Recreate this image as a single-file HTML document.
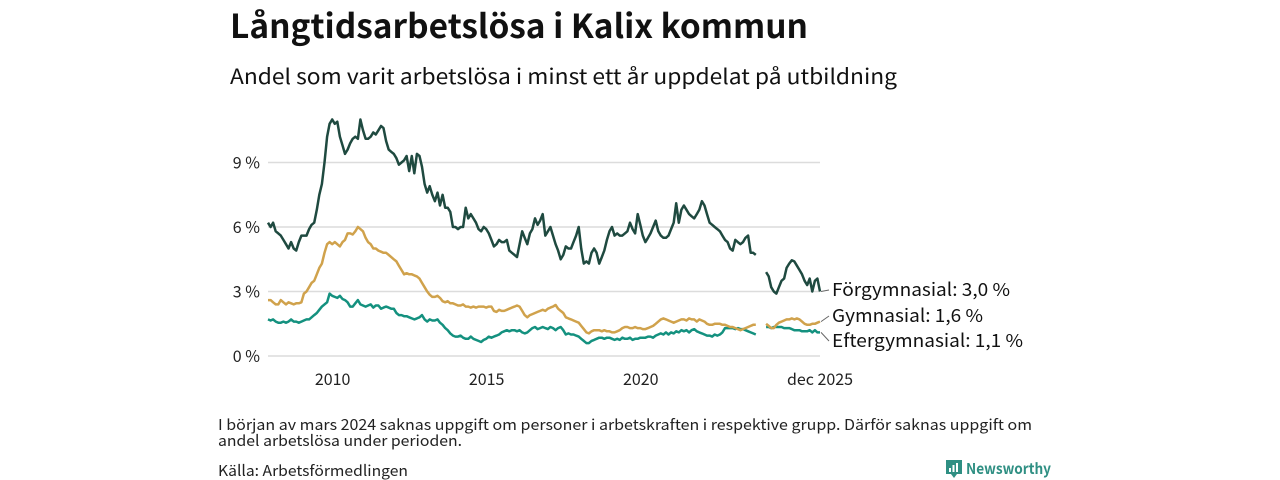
<!DOCTYPE html>
<html><head><meta charset="utf-8"><style>
html,body{margin:0;padding:0;background:#fff;}
svg{display:block;font-family:"Noto Sans CJK SC","Liberation Sans",sans-serif;}
</style></head><body>
<svg id="chart" width="1280" height="480" viewBox="0 0 1280 480">
<text x="230" y="38" font-size="33" font-weight="bold" fill="#111" textLength="578" lengthAdjust="spacingAndGlyphs">Långtidsarbetslösa i Kalix kommun</text>
<text x="230" y="84" font-size="21" fill="#111" textLength="667" lengthAdjust="spacingAndGlyphs">Andel som varit arbetslösa i minst ett år uppdelat på utbildning</text>
<g id="grid"></g>
<g id="yaxis"></g>
<g id="xaxis"></g>
<g id="series"></g>
<g id="labels"></g>
<text x="218" y="430" font-size="15" fill="#222" textLength="814" lengthAdjust="spacingAndGlyphs">I början av mars 2024 saknas uppgift om personer i arbetskraften i respektive grupp. Därför saknas uppgift om</text>
<text x="218" y="446" font-size="15" fill="#222" textLength="244" lengthAdjust="spacingAndGlyphs">andel arbetslösa under perioden.</text>
<text x="218" y="476" font-size="15" fill="#222" textLength="190" lengthAdjust="spacingAndGlyphs">Källa: Arbetsförmedlingen</text>
<g>
<path d="M946 460 h16 v14 h-5 l-3 4 l-3 -4 h-5 z" fill="#2f8f83"/>
<rect x="949" y="468" width="2" height="4" fill="#fff"/><rect x="952.5" y="465" width="2" height="7" fill="#fff"/><rect x="956" y="463" width="2" height="9" fill="#fff"/>
<text x="966" y="474" font-size="15" font-weight="bold" fill="#2f8f83" textLength="85" lengthAdjust="spacingAndGlyphs">Newsworthy</text>
</g>
</svg>
<script>
const yTicks=[0,3,6,9];
const yTickLabels=["0 %","3 %","6 %","9 %"];
const xTicks=[2010,2015,2020];
const xTickLabels=["2010","2015","2020"];
const startYear=2008;
const N=null;
const forgymnasial=[
6.2,6.0,6.2,5.8,5.7,5.6,5.4,5.2,5.0,5.3,5.0,4.9,
5.3,5.6,5.6,5.6,5.9,6.1,6.2,6.8,7.5,8.0,9.0,10.2,
10.8,11.0,10.8,10.9,10.2,9.8,9.4,9.6,9.9,10.1,10.2,10.1,
11.0,10.5,10.1,10.1,10.2,10.4,10.3,10.5,10.7,10.6,10.0,9.6,
9.5,9.4,9.2,8.9,9.0,9.1,9.3,8.6,9.3,8.5,9.4,9.3,
8.8,8.0,7.6,7.9,7.5,7.2,7.6,7.0,7.5,6.9,6.9,6.7,
6.0,6.0,5.9,6.0,6.0,6.9,6.4,6.6,6.4,6.2,5.9,5.8,
6.0,5.9,5.7,5.4,5.1,5.2,5.4,5.3,5.3,5.4,4.9,4.8,
4.7,4.6,5.2,5.8,5.5,5.2,5.7,5.9,6.4,6.1,6.3,6.6,
5.6,5.8,6.0,5.6,5.2,4.9,4.5,4.7,5.1,5.0,5.0,5.3,
5.6,6.0,5.0,4.3,4.4,4.3,4.8,5.0,4.8,4.3,4.6,4.9,
5.4,5.8,6.0,5.6,5.7,5.6,5.6,5.7,5.8,6.2,5.9,5.7,
6.6,6.1,5.6,5.3,5.5,5.7,6.0,6.3,5.8,5.6,5.5,5.5,
5.6,5.9,6.2,7.1,6.2,6.8,7.0,6.8,6.6,6.5,6.4,6.6,
6.8,7.2,7.0,6.6,6.2,6.1,6.0,5.9,5.8,5.6,5.4,5.3,
5.0,4.9,5.4,5.3,5.2,5.3,5.5,5.6,4.8,4.8,4.7,N,
N,N,3.9,3.7,3.2,3.0,2.9,3.2,3.5,3.6,4.1,4.3,
4.45,4.4,4.2,4.0,3.8,3.5,3.3,3.6,3.0,3.5,3.6,3.0];
const gymnasial=[
2.6,2.6,2.5,2.4,2.4,2.6,2.5,2.4,2.5,2.45,2.4,2.45,
2.45,2.5,2.9,3.0,3.2,3.4,3.5,3.8,4.1,4.3,4.8,5.2,
5.3,5.2,5.3,5.2,5.1,5.3,5.4,5.7,5.7,5.65,5.8,6.0,
5.9,5.8,5.5,5.3,5.2,5.0,5.0,4.9,4.85,4.8,4.8,4.7,
4.6,4.5,4.4,4.2,4.0,3.8,3.85,3.8,3.8,3.75,3.7,3.6,
3.4,3.2,3.0,2.85,2.75,2.75,2.8,2.7,2.55,2.5,2.55,2.45,
2.45,2.4,2.35,2.35,2.4,2.3,2.3,2.25,2.3,2.25,2.3,2.3,
2.3,2.25,2.3,2.3,2.1,2.05,2.15,2.1,2.1,2.15,2.2,2.25,
2.3,2.35,2.3,2.1,1.9,1.8,1.9,1.95,2.0,2.05,2.1,2.15,
2.1,2.2,2.25,2.3,2.37,2.2,2.1,2.0,1.8,1.75,1.7,1.65,
1.6,1.55,1.4,1.25,1.1,1.05,1.15,1.2,1.2,1.2,1.15,1.2,
1.15,1.15,1.1,1.1,1.15,1.2,1.3,1.35,1.35,1.3,1.3,1.35,
1.3,1.3,1.25,1.25,1.3,1.35,1.4,1.5,1.6,1.7,1.75,1.7,
1.65,1.6,1.55,1.6,1.65,1.7,1.7,1.65,1.75,1.7,1.7,1.6,
1.7,1.65,1.6,1.5,1.45,1.45,1.5,1.5,1.5,1.45,1.45,1.4,
1.35,1.35,1.3,1.25,1.2,1.25,1.3,1.35,1.4,1.45,1.45,N,
N,N,1.5,1.4,1.3,1.3,1.45,1.55,1.6,1.65,1.7,1.7,
1.75,1.7,1.75,1.7,1.6,1.5,1.45,1.45,1.5,1.5,1.55,1.6];
const eftergymnasial=[
1.7,1.65,1.7,1.6,1.55,1.55,1.6,1.55,1.6,1.7,1.6,1.6,
1.55,1.6,1.65,1.7,1.7,1.8,1.9,2.0,2.15,2.3,2.4,2.5,
2.9,2.8,2.75,2.7,2.8,2.65,2.6,2.5,2.3,2.3,2.45,2.6,
2.4,2.35,2.3,2.35,2.4,2.25,2.35,2.35,2.2,2.25,2.3,2.25,
2.2,2.2,2.0,1.9,1.9,1.85,1.85,1.8,1.75,1.7,1.75,1.8,
1.9,1.7,1.6,1.7,1.65,1.65,1.7,1.55,1.45,1.3,1.2,1.05,
0.95,0.9,0.9,0.95,0.85,0.8,0.8,0.9,0.8,0.75,0.7,0.65,
0.75,0.8,0.9,0.85,0.9,0.95,1.0,1.1,1.15,1.2,1.15,1.2,
1.2,1.15,1.2,1.1,1.05,1.1,1.2,1.3,1.35,1.25,1.3,1.35,
1.3,1.25,1.35,1.3,1.2,1.3,1.35,1.2,1.0,1.05,1.0,1.0,
0.95,0.9,0.8,0.7,0.6,0.6,0.7,0.75,0.8,0.85,0.85,0.8,
0.85,0.85,0.8,0.75,0.8,0.75,0.85,0.8,0.8,0.85,0.75,0.8,
0.8,0.85,0.85,0.85,0.9,0.9,0.85,0.95,1.0,1.05,1.0,1.1,
1.0,1.1,1.05,1.15,1.1,1.2,1.15,1.2,1.1,1.2,1.25,1.15,
1.1,1.05,1.0,0.95,0.95,0.9,1.0,0.95,1.0,1.1,1.3,1.3,
1.3,1.3,1.25,1.3,1.25,1.25,1.2,1.15,1.1,1.05,1.0,N,
N,N,1.35,1.35,1.3,1.35,1.35,1.35,1.35,1.3,1.3,1.3,
1.25,1.2,1.2,1.2,1.15,1.15,1.15,1.2,1.1,1.2,1.1,1.1];
const seriesNames=["Förgymnasial","Gymnasial","Eftergymnasial"];
const seriesColors=["#1f4a40","#d0a24c","#14917f"];

const NS="http://www.w3.org/2000/svg";
const X0=268,X1=820,Y0=356,PXPER=21.5;
const tEnd=2025+11/12;
function xs(t){return X0+(t-startYear)/(tEnd-startYear)*(X1-X0);}
function ys(v){return Y0-v*PXPER;}
function mk(tag,attrs,parent){const e=document.createElementNS(NS,tag);for(const k in attrs)e.setAttribute(k,attrs[k]);parent.appendChild(e);return e;}
const grid=document.getElementById('grid'),ya=document.getElementById('yaxis'),xa=document.getElementById('xaxis'),sg=document.getElementById('series'),lg=document.getElementById('labels');
yTicks.forEach((v,i)=>{
  const l=mk('line',{x1:X0,x2:X1,y1:ys(v),y2:ys(v),stroke:'#dcdcdc','stroke-width':1.5},grid);
  
  
  const t=mk('text',{x:260,y:ys(v)+6,'text-anchor':'end','font-size':16,fill:'#222'},ya);
  t.textContent=yTickLabels[i];
  
  
});
xTicks.forEach((v,i)=>{
  const t=mk('text',{x:xs(v)+3,y:385,'text-anchor':'middle','font-size':16,fill:'#222'},xa);
  t.textContent=xTickLabels[i];
  
  
});
const endLbl=mk('text',{x:xs(tEnd),y:385,'text-anchor':'middle','font-size':16,fill:'#222'},xa);
endLbl.textContent="dec 2025";


const all=[forgymnasial,gymnasial,eftergymnasial];
const order=[2,1,0];
order.forEach(si=>{
  const data=all[si];let d='',pen=false;
  data.forEach((v,i)=>{
    if(v===null){pen=false;return;}
    const x=xs(startYear+i/12),y=ys(v);
    d+=(pen?'L':'M')+x.toFixed(1)+' '+y.toFixed(1);pen=true;
  });
  const p=mk('path',{d:d,fill:'none',stroke:seriesColors[si],'stroke-width':2.5,'stroke-linejoin':'round'},sg);
  
  
});
const labelY=[296,322,347];
const fmt=v=>v.toFixed(1).replace('.',',')+' %';
const labelW=[178,151,191];
all.forEach((data,si)=>{
  const last=data[data.length-1];
  const ly=labelY[si]-6;
  const ln=mk('line',{x1:xs(tEnd)+1,y1:ys(last),x2:829,y2:ly,stroke:'#666','stroke-width':1},lg);
  
  
  const t=mk('text',{x:832,y:labelY[si],'font-size':18,fill:'#111',textLength:labelW[si],lengthAdjust:'spacingAndGlyphs'},lg);
  t.textContent=seriesNames[si]+': '+fmt(last);
  
  
});
</script>
</body></html>
